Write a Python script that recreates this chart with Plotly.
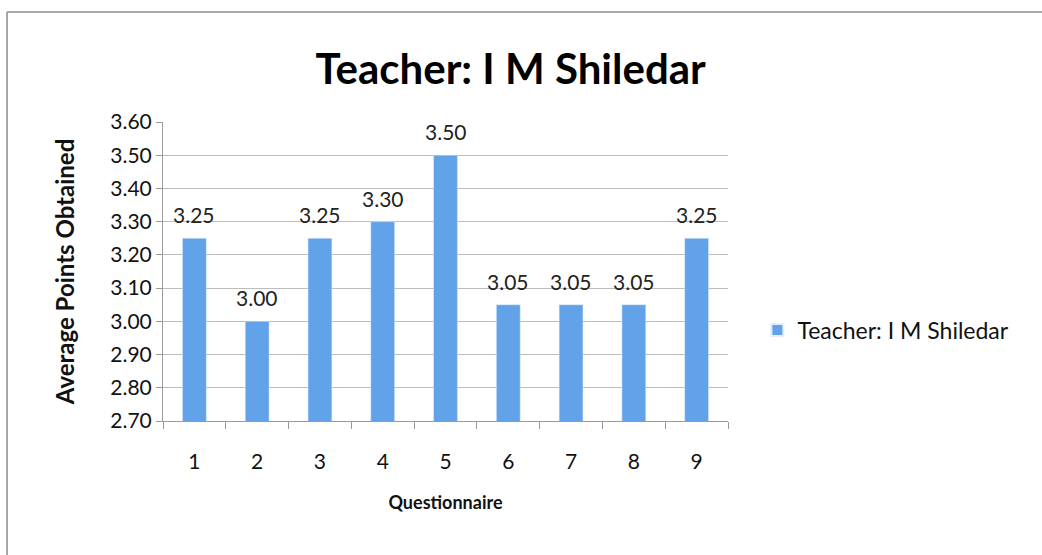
import plotly.graph_objects as go

questions = ["1", "2", "3", "4", "5", "6", "7", "8", "9"]
avg_points = [3.25, 3.00, 3.25, 3.30, 3.50, 3.05, 3.05, 3.05, 3.25]
series_name = "Teacher: I M Shiledar"

font_family = "Lato, 'Open Sans', sans-serif"

fig = go.Figure()
fig.add_trace(go.Bar(
    x=questions, y=avg_points, name=series_name,
    marker=dict(color="#62A2E9"),
    showlegend=True,
))

# value labels sit a bit higher above the bars than plotly's default pad
# (category axis: annotation x is the category index)
for i, v in enumerate(avg_points):
    fig.add_annotation(x=i, y=v, text=f"{v:.2f}", showarrow=False,
                       yanchor="bottom", yshift=9,
                       font=dict(size=21, color="#222222"))

fig.update_layout(
    width=1042, height=555,
    margin=dict(l=163, r=314, t=122, b=134),
    paper_bgcolor="white", plot_bgcolor="white",
    font=dict(family=font_family, color="#111111"),
    bargap=0.62,
    title=dict(text="<b>Teacher: I M Shiledar</b>", x=0.49, xanchor="center",
               y=0.875, yanchor="middle", font=dict(size=42, color="#000000")),
    legend=dict(x=1.052, y=0.304, xanchor="left", yanchor="middle",
                font=dict(size=23, color="#111111"), itemsizing="constant"),
    xaxis=dict(
        type="category", title=dict(text="<b>Questionnaire</b>", font=dict(size=18), standoff=24),
        showline=True, linecolor="#9a9a9a", ticks="outside", ticklen=7,
        tickcolor="#9a9a9a", tickson="boundaries", showgrid=False,
        tickfont=dict(size=21), ticklabelstandoff=22,
    ),
    yaxis=dict(
        range=[2.7, 3.6], dtick=0.1, tick0=2.7, tickformat=".2f",
        title=dict(text="<b>Average Points Obtained</b>", font=dict(size=24), standoff=28),
        showline=True, linecolor="#9a9a9a", ticks="outside", ticklen=6,
        tickcolor="#9a9a9a", showgrid=True, gridcolor="#bdbdbd",
        tickfont=dict(size=21), zeroline=False,
    ),
    shapes=[
        dict(type="line", xref="paper", yref="paper",
             x0=-0.276, x1=1.6, y0=1.368, y1=1.368,
             line=dict(color="#8c8c8c", width=1.5)),
        dict(type="line", xref="paper", yref="paper",
             x0=-0.276, x1=-0.276, y0=-0.5, y1=1.368,
             line=dict(color="#8c8c8c", width=1.5)),
    ],
)

fig.write_html("out.html", config={"displayModeBar": False},
               post_script="document.body.style.margin='0';")
